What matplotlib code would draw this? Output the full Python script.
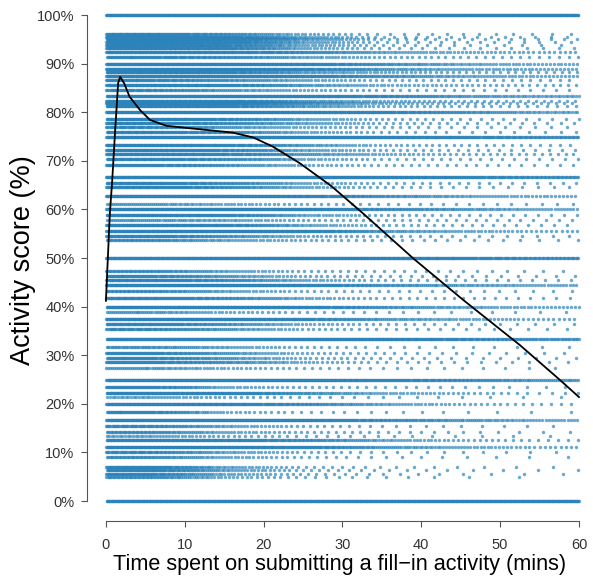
import matplotlib.pyplot as plt
import numpy as np

plt.rcParams['font.family'] = ['Liberation Sans', 'DejaVu Sans']

# score levels (%) seen as horizontal bands, and rough point counts per 10-min bin
# bins: 0-10, 10-20, 20-30, 30-40, 40-50, 50-60
score_levels = [
    100.0, 96.0, 95.5, 95.0, 94.4, 93.8, 93.3, 92.3, 91.3, 90.0,
    88.9, 88.2, 87.5, 86.7, 85.7, 84.6, 83.3, 82.4, 81.8, 81.2,
    80.0, 78.6, 77.8, 76.9, 76.0, 75.0, 73.3, 72.2, 71.4, 70.4,
    69.2, 66.7, 65.4, 64.7, 62.8, 61.1, 60.0, 58.8, 57.9, 56.8,
    55.6, 54.5, 53.8, 50.0, 47.4, 46.4, 45.5, 44.4, 43.3, 41.7,
    40.0, 38.9, 37.5, 36.4, 35.3, 33.3, 31.6, 30.4, 29.4, 28.6,
    27.3, 25.0, 23.5, 22.2, 21.4, 20.0, 18.4, 16.7, 15.4, 14.3,
    13.3, 12.5, 11.1, 10.0, 9.1, 7.1, 6.3, 5.6, 5.0, 0.0,
]
bin_counts = [
    [110, 110, 110, 110, 110, 110], [90, 60, 20, 6, 5, 4], [110, 90, 30, 8, 6, 5],
    [110, 100, 35, 10, 6, 6], [110, 90, 30, 8, 6, 5], [100, 80, 25, 8, 5, 4],
    [100, 80, 25, 8, 5, 5], [100, 90, 60, 30, 20, 15], [80, 60, 30, 15, 10, 8],
    [110, 110, 90, 50, 30, 20],
    [110, 110, 80, 40, 25, 20], [100, 80, 35, 20, 12, 10], [110, 110, 90, 50, 30, 20],
    [80, 50, 25, 12, 10, 8], [100, 80, 40, 20, 15, 10], [70, 40, 20, 10, 8, 6],
    [110, 110, 100, 70, 40, 30], [100, 90, 40, 20, 12, 10], [110, 100, 50, 20, 12, 10],
    [100, 80, 40, 15, 10, 8],
    [110, 110, 100, 80, 50, 30], [100, 70, 30, 12, 8, 6], [90, 60, 30, 12, 8, 6],
    [70, 40, 20, 10, 6, 5], [90, 60, 25, 10, 6, 5], [110, 110, 110, 100, 80, 60],
    [100, 80, 40, 15, 10, 8], [100, 70, 30, 12, 8, 6], [100, 80, 40, 20, 12, 10],
    [90, 60, 25, 10, 8, 6],
    [80, 50, 20, 10, 8, 6], [110, 110, 110, 100, 80, 60], [90, 60, 25, 10, 8, 6],
    [90, 60, 25, 10, 6, 5], [110, 110, 90, 50, 30, 20], [40, 25, 12, 8, 6, 5],
    [110, 110, 100, 60, 40, 25], [100, 80, 30, 12, 8, 6], [40, 30, 15, 10, 8, 6],
    [100, 80, 30, 12, 8, 6],
    [110, 110, 90, 40, 25, 15], [90, 50, 20, 10, 6, 5], [60, 30, 15, 8, 6, 4],
    [110, 110, 110, 100, 80, 60], [60, 30, 12, 8, 6, 4], [80, 40, 15, 8, 6, 4],
    [90, 60, 25, 10, 8, 6], [110, 110, 90, 50, 35, 25], [60, 30, 12, 8, 6, 4],
    [90, 60, 25, 10, 8, 6],
    [110, 110, 90, 50, 30, 20], [40, 20, 10, 6, 4, 3], [110, 110, 80, 40, 25, 15],
    [90, 50, 20, 10, 6, 4], [70, 40, 15, 8, 6, 4], [110, 110, 110, 100, 70, 50],
    [50, 30, 12, 6, 4, 3], [80, 40, 15, 8, 5, 4], [80, 40, 15, 8, 5, 4],
    [80, 50, 20, 8, 6, 4],
    [40, 20, 10, 6, 4, 3], [110, 110, 110, 80, 60, 40], [80, 25, 12, 8, 6, 4],
    [100, 90, 50, 25, 15, 6], [30, 15, 8, 5, 3, 2], [100, 90, 60, 30, 15, 8],
    [80, 20, 8, 5, 3, 2], [110, 110, 100, 60, 40, 25], [70, 30, 12, 6, 4, 3],
    [60, 25, 12, 8, 5, 3],
    [30, 15, 8, 5, 3, 2], [100, 90, 60, 30, 15, 8], [110, 100, 80, 40, 25, 15],
    [70, 30, 12, 6, 4, 3], [60, 25, 10, 5, 3, 2], [90, 30, 10, 5, 3, 2],
    [90, 30, 10, 5, 3, 2], [80, 25, 10, 5, 3, 2], [60, 20, 8, 4, 2, 1],
    [110, 110, 110, 110, 110, 110],
]
bin_centers = [5, 15, 25, 35, 45, 55]

# fitted trend line
trend_x = [0, 0.5, 0.8, 1.15, 1.55, 1.8, 2.3, 3.0, 4.3, 5.6, 7.7, 11.9, 16.1,
           18.7, 21.2, 24.6, 28.6, 32.6, 39.0, 45.3, 52.5, 57.6, 60]
trend_y = [41.2, 59.2, 66, 75.7, 86, 87.3, 86.0, 83.2, 80.5, 78.4, 77.2, 76.5,
           75.8, 74.8, 72.9, 69.5, 64.8, 59.2, 49.9, 41.4, 32.1, 24.9, 21.4]

# spread each band's points along x so the density follows the bin counts smoothly
grid = np.linspace(0, 60, 1201)
xs, ys = [], []
for i, (lvl, counts) in enumerate(zip(score_levels, bin_counts)):
    n = int(sum(counts))
    dens = np.interp(grid, bin_centers, np.array(counts, float))
    cum = np.concatenate([[0], np.cumsum((dens[1:] + dens[:-1]) / 2)])
    phase = (i * 0.618) % 1
    q = (np.arange(n) + phase) / n * cum[-1]
    xs.append(np.interp(q, cum, grid))
    ys.append(np.full(n, lvl))
xs = np.concatenate(xs)
ys = np.concatenate(ys)

fig = plt.figure(figsize=(5.93, 5.76), dpi=100)
ax = fig.add_axes([87 / 593, 55 / 576, 506 / 593, 521 / 576])

ax.scatter(xs, ys, s=6, color='#2b83ba', alpha=0.7, linewidths=0)
ax.plot(trend_x, trend_y, color='black', lw=1.3)

ax.set_xlim(-2.4, 61.78)
ax.set_ylim(-4.1, 103.09)

for s in ['top', 'right']:
    ax.spines[s].set_visible(False)
ax.spines['left'].set_bounds(0, 100)
ax.spines['bottom'].set_bounds(0, 60)
for s in ['left', 'bottom']:
    ax.spines[s].set_color('#555555')
    ax.spines[s].set_linewidth(0.8)

ax.set_xticks([0, 10, 20, 30, 40, 50, 60])
ax.set_yticks(range(0, 101, 10))
ax.set_yticklabels([f'{v}%' for v in range(0, 101, 10)])
ax.tick_params(axis='both', direction='out', length=4, width=0.8,
               color='#555555', labelsize=10.5, labelcolor='#333333')
ax.tick_params(axis='y', pad=5)
ax.tick_params(axis='x', pad=8)

ax.set_xlabel('Time spent on submitting a fill\u2212in activity (mins)', fontsize=15.6, labelpad=1.5)
ax.set_ylabel('Activity score (%)', fontsize=19.5, labelpad=1)

fig.savefig('out.png', dpi=100)
